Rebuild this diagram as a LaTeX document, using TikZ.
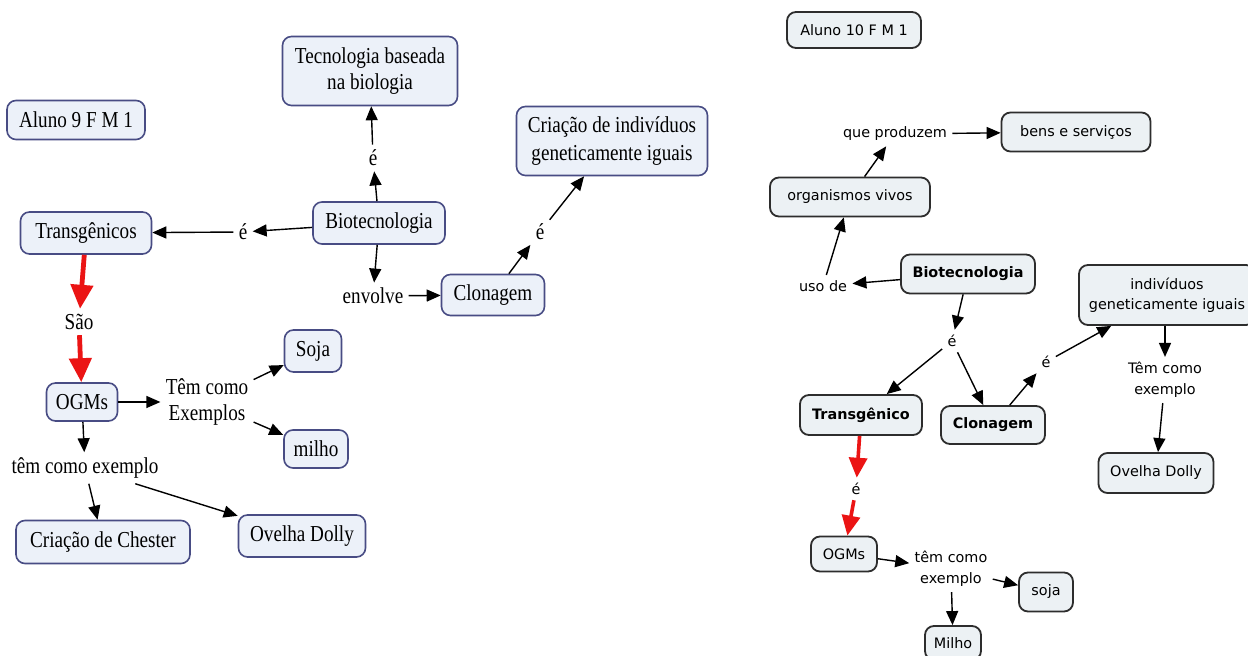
\documentclass[tikz,border=0pt]{standalone}
\usepackage{fontspec}
\newfontfamily\lserif{Liberation Serif}[FakeStretch=0.84]
\newfontfamily\rsans{DejaVu Sans}
\usetikzlibrary{arrows.meta}
\definecolor{lfill}{RGB}{236,241,249}
\definecolor{lline}{RGB}{72,76,132}
\definecolor{rfill}{RGB}{236,241,244}
\definecolor{rline}{RGB}{45,45,45}
\definecolor{redarrow}{RGB}{235,20,20}
\tikzset{
  lconcept/.style={draw=lline, fill=lfill, line width=0.8pt, rounded corners=4.5pt,
    align=center, inner sep=0pt, font=\lserif\fontsize{11.4}{12.6}\selectfont},
  llink/.style={align=center, inner sep=2.5pt, font=\lserif\fontsize{11.4}{13.4}\selectfont},
  rconcept/.style={draw=rline, fill=rfill, line width=0.9pt, rounded corners=4.5pt,
    align=center, inner sep=0pt, font=\rsans\fontsize{7.2}{10.2}\selectfont},
  rbold/.style={font=\rsans\bfseries\fontsize{7.2}{10.2}\selectfont},
  rlink/.style={align=center, inner sep=2.5pt, font=\rsans\fontsize{7.2}{10.4}\selectfont},
  box/.style 2 args={minimum width=#1pt, minimum height=#2pt},
  arr/.style={-{Triangle[length=7pt,width=6pt]}, line width=0.7pt},
  redarr/.style={-{Triangle[length=12pt,width=11pt]}, line width=2.4pt, draw=redarrow},
  redarrsm/.style={-{Triangle[length=10pt,width=9pt]}, line width=1.8pt, draw=redarrow},
}
\begin{document}
\begin{tikzpicture}[x=0.5pt, y=-0.5pt]
\fill[white] (0,0) rectangle (1248,656);
\useasboundingbox (0,0) rectangle (1248,656);

% ---- first map (serif) ----
\node[lconcept, box={87.5}{34.5}] (tec) at (370,71) {Tecnologia baseada\\na biologia};
\node[lconcept, box={69}{19.5}] (aluno9) at (76,120) {Aluno 9 F M 1};
\node[lconcept, box={65.5}{21}] (transg) at (86,233) {Transgênicos};
\node[lconcept, box={66}{21}] (biotec) at (379,223) {Biotecnologia};
\node[lconcept, box={51.5}{20.5}] (clon) at (493,295) {Clonagem};
\node[lconcept, box={95.5}{34.5}, font=\lserif\fontsize{11.4}{14}\selectfont] (criacao) at (612,141) {Criação de indivíduos\\geneticamente iguais};
\node[lconcept, box={35.5}{19}] (ogms) at (82,402) {OGMs};
\node[lconcept, box={28.5}{21}] (soja) at (313,351) {Soja};
\node[lconcept, box={32}{19}] (milho) at (316,449) {milho};
\node[lconcept, box={87}{21.5}] (chester) at (103,542) {Criação de Chester};
\node[lconcept, box={63.5}{21}] (dolly) at (302,536) {Ovelha Dolly};

\node[llink] (e1) at (373,158) {é};
\node[llink] (e2) at (243,232) {é};
\node[llink] (envolve) at (373,296) {envolve};
\node[llink] (e3) at (540,232) {é};
\node[llink] (sao) at (79,322) {São};
\node[llink] (tcx) at (207,402) {Têm como\\Exemplos};
\node[llink] (tce) at (85,468) {têm como exemplo};

\draw[arr] (biotec) -- (e1);
\draw[arr] (e1) -- (tec);
\draw[arr] (biotec) -- (e2);
\draw[arr] (e2) -- (transg);
\draw[arr] (biotec) -- (envolve);
\draw[arr] (envolve) -- (clon);
\draw[arr] (clon) -- (e3);
\draw[arr] (e3) -- (criacao);
\draw[redarr] (transg) -- (sao);
\draw[redarr] (sao) -- (ogms);
\draw[arr] (ogms) -- (tcx);
\draw[arr] (tcx) -- (soja);
\draw[arr] (tcx) -- (milho);
\draw[arr] (ogms) -- (tce);
\draw[arr] (tce) -- (chester);
\draw[arr] (tce) -- (dolly);

% ---- second map (sans) ----
\node[rconcept, box={67}{18}] (aluno10) at (854,30) {Aluno 10 F M 1};
\node[rconcept, box={74.5}{19.5}] (bens) at (1076,132) {bens e serviços};
\node[rconcept, box={80}{19.5}] (org) at (850,197) {organismos vivos};
\node[rconcept, rbold, box={67}{19.5}] (biotec2) at (968,274) {Biotecnologia};
\node[rconcept, rbold, box={61}{20}] (transg2) at (861,415) {Transgênico};
\node[rconcept, rbold, box={52}{19}] (clon2) at (993,425) {Clonagem};
\node[rconcept, box={88}{30}] (indiv) at (1167,295) {indivíduos\\geneticamente iguais};
\node[rconcept, box={57.5}{20}] (dolly2) at (1156,473) {Ovelha Dolly};
\node[rconcept, box={33}{17.5}] (ogms2) at (844,554) {OGMs};
\node[rconcept, box={27}{19.5}] (soja2) at (1046,592) {soja};
\node[rconcept, box={28}{17}] (milho2) at (953,643) {Milho};

\node[rlink] (qp) at (895,134) {que produzem};
\node[rlink] (usode) at (823,286) {uso de};
\node[rlink] (e4) at (952,341) {é};
\node[rlink] (e5) at (1046,362) {é};
\node[rlink] (tce2) at (1165,380) {Têm como\\exemplo};
\node[rlink] (e6) at (856,489) {é};
\node[rlink] (tce3) at (951,569) {têm como\\exemplo};

\draw[arr] (org) -- (qp);
\draw[arr] (qp) -- (bens);
\draw[arr] (usode) -- (org);
\draw[arr] (biotec2) -- (usode);
\draw[arr] (biotec2) -- (e4);
\draw[arr] (e4) -- (transg2);
\draw[arr] (e4) -- (clon2);
\draw[arr] (clon2) -- (e5);
\draw[arr] (e5) -- (indiv);
\draw[arr] (indiv.south -| tce2) -- (tce2);
\draw[arr] (tce2) -- (dolly2);
\draw[redarrsm] (transg2) -- (e6);
\draw[redarrsm] (e6) -- (ogms2);
\draw[arr] (ogms2) -- (tce3);
\draw[arr] (tce3) -- (soja2);
\draw[arr] (tce3) -- (milho2);
\end{tikzpicture}
\end{document}
